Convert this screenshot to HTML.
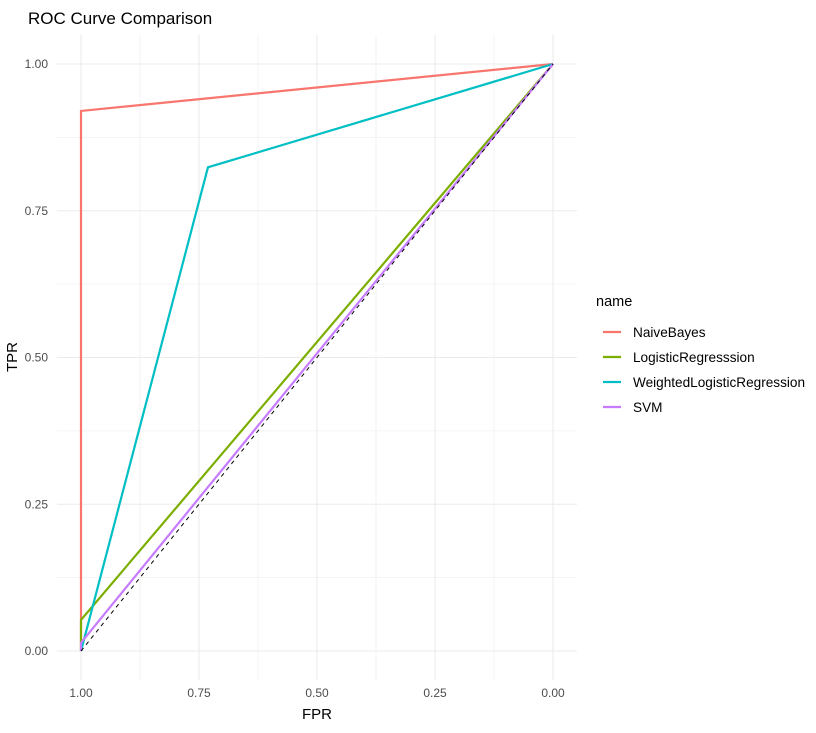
<!DOCTYPE html>
<html><head><meta charset="utf-8"><style>
body{margin:0;background:#fff;font-family:"Liberation Sans",Arial,sans-serif}
svg text{font-family:"Liberation Sans",Arial,sans-serif}
</style></head><body>
<svg id="c" width="816" height="728">
<text x="28" y="24" font-size="17" fill="#000">ROC Curve Comparison</text>
<g id="grid"></g><g id="series"></g><g id="ticks"></g>
<text x="317" y="719" font-size="15" text-anchor="middle" fill="#000">FPR</text>
<text x="17" y="357" font-size="15" text-anchor="middle" fill="#000" transform="rotate(-90 17 357)">TPR</text>
<g id="legend">
<text x="596" y="306" font-size="14.5" fill="#000">name</text>
</g>
</svg>
<script>
const names=["NaiveBayes","LogisticRegresssion","WeightedLogisticRegression","SVM"];
const colors=["#F8766D","#7CAE00","#00BFC4","#C77CFF"];
const xNB=[1,1,0], yNB=[0,0.92,1];
const xLR=[1,1,0], yLR=[0,0.053,1];
const xWLR=[1,0.731,0], yWLR=[0,0.824,1];
const xSVM=[1,1,0], ySVM=[0,0.014,1];
const xTicks=[1,0.75,0.5,0.25,0];
const xTickLabels=["1.00","0.75","0.50","0.25","0.00"];
const yTicks=[0,0.25,0.5,0.75,1];
const yTickLabels=["0.00","0.25","0.50","0.75","1.00"];
const NS="http://www.w3.org/2000/svg";
const sx=v=>553-v*472, sy=v=>651-v*587;
function mk(t,a,p){const e=document.createElementNS(NS,t);for(const k in a)e.setAttribute(k,a[k]);p.appendChild(e);return e;}
const grid=document.getElementById('grid'),ser=document.getElementById('series'),tk=document.getElementById('ticks'),lg=document.getElementById('legend');
[0.125,0.375,0.625,0.875].forEach(v=>{
 let l=mk('line',{x1:sx(v),x2:sx(v),y1:35,y2:680,stroke:'#f0f0f0','stroke-width':0.8},grid);
 
 let m=mk('line',{x1:57,x2:577,y1:sy(v),y2:sy(v),stroke:'#f0f0f0','stroke-width':0.8},grid);
 
});
xTicks.forEach((v,i)=>{
 let l=mk('line',{x1:sx(v),x2:sx(v),y1:35,y2:680,stroke:'#ebebeb','stroke-width':1.1},grid);
 
 let t=mk('text',{x:sx(v),y:697,'font-size':12,fill:'#4d4d4d','text-anchor':'middle'},tk);t.textContent=xTickLabels[i];
 
});
yTicks.forEach((v,i)=>{
 let l=mk('line',{x1:57,x2:577,y1:sy(v),y2:sy(v),stroke:'#ebebeb','stroke-width':1.1},grid);
 
 let t=mk('text',{x:48,y:sy(v)+4,'font-size':12,fill:'#4d4d4d','text-anchor':'end'},tk);t.textContent=yTickLabels[i];
 
});
const xs=[xNB,xLR,xWLR,xSVM],ys=[yNB,yLR,yWLR,ySVM];
xs.forEach((x,i)=>{
 const pts=x.map((v,j)=>sx(v)+','+sy(ys[i][j])).join(' ');
 let p=mk('polyline',{points:pts,fill:'none',stroke:colors[i],'stroke-width':2.2},ser);
 
});
let d=mk('line',{x1:sx(1),y1:sy(0),x2:sx(0),y2:sy(1),stroke:'#000','stroke-width':1,'stroke-dasharray':'4,4'},ser);

names.forEach((n,i)=>{
 const y=332+i*25;
 let l=mk('line',{x1:603,x2:621,y1:y,y2:y,stroke:colors[i],'stroke-width':2.2},lg);
 
 let t=mk('text',{x:633,y:y+5,'font-size':13.6,fill:'#000'},lg);t.textContent=n;
 
});
</script>
</body></html>
